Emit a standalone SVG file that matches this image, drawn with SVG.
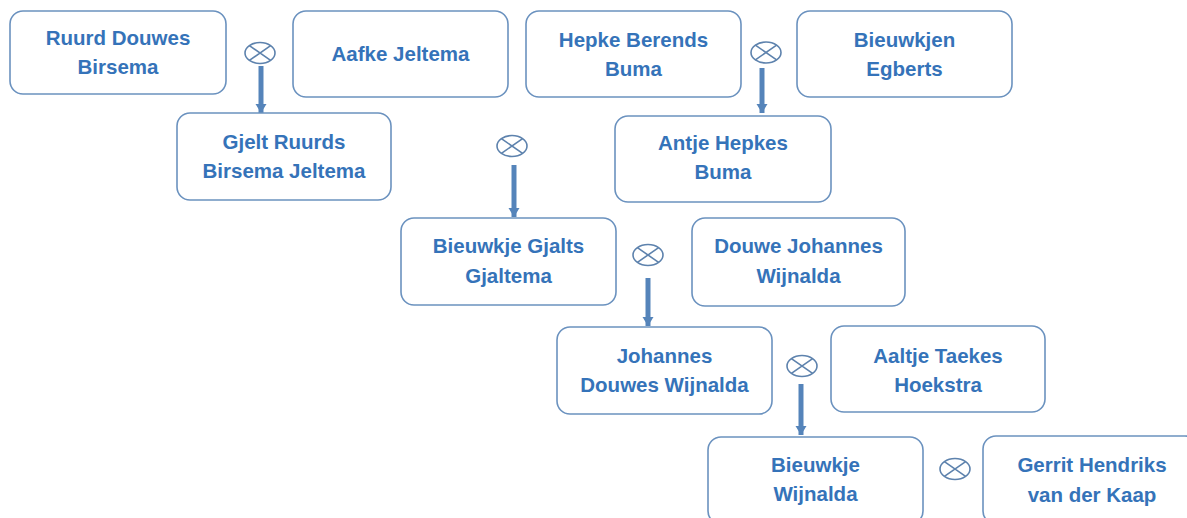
<svg xmlns="http://www.w3.org/2000/svg" width="1187" height="518" viewBox="0 0 1187 518">
  <style>
    .box { fill: #ffffff; stroke: #6b92bf; stroke-width: 1.6; }
    .lbl { font-family: "Liberation Sans", Arial, sans-serif; font-weight: bold; font-size: 20.5px; fill: #3573b9; text-anchor: middle; }
    .sym { fill: none; stroke: #5d82ad; stroke-width: 1.6; }
    .con { stroke: #5584ba; stroke-width: 5; fill: none; }
  </style>
  <defs>
    <marker id="arr" markerUnits="userSpaceOnUse" markerWidth="11" markerHeight="12" refX="9" refY="6" orient="auto">
      <path d="M0,0.5 L9,6 L0,11.5 Z" fill="#5584ba"/>
    </marker>
    <g id="ox">
      <ellipse cx="0" cy="0" rx="15" ry="10.5" class="sym"/>
      <path d="M-10.6,-7.4 L10.6,7.4 M-10.6,7.4 L10.6,-7.4" class="sym"/>
    </g>
  </defs>
  <rect width="1187" height="518" fill="#ffffff"/>

  <g id="connectors">
    <line class="con" x1="261" y1="66" x2="261" y2="113" marker-end="url(#arr)"/>
    <line class="con" x1="762" y1="68" x2="762" y2="113" marker-end="url(#arr)"/>
    <line class="con" x1="514" y1="165" x2="514" y2="217" marker-end="url(#arr)"/>
    <line class="con" x1="648" y1="278" x2="648" y2="326" marker-end="url(#arr)"/>
    <line class="con" x1="801" y1="384" x2="801" y2="435" marker-end="url(#arr)"/>
  </g>

  <g id="unions">
    <use href="#ox" x="260" y="53"/>
    <use href="#ox" x="766" y="52.5"/>
    <use href="#ox" x="512" y="146"/>
    <use href="#ox" x="648" y="255"/>
    <use href="#ox" x="802" y="366"/>
    <use href="#ox" x="955" y="469"/>
  </g>

  <g id="n1">
    <rect class="box" x="10" y="11" width="216" height="83" rx="13"/>
    <text class="lbl" x="118" y="45">Ruurd Douwes</text>
    <text class="lbl" x="118" y="74">Birsema</text>
  </g>
  <g id="n2">
    <rect class="box" x="293" y="11" width="215" height="86" rx="13"/>
    <text class="lbl" x="400.5" y="61">Aafke Jeltema</text>
  </g>
  <g id="n3">
    <rect class="box" x="177" y="113" width="214" height="87" rx="13"/>
    <text class="lbl" x="284" y="149">Gjelt Ruurds</text>
    <text class="lbl" x="284" y="178">Birsema Jeltema</text>
  </g>
  <g id="n4">
    <rect class="box" x="526" y="11" width="215" height="86" rx="13"/>
    <text class="lbl" x="633.5" y="47">Hepke Berends</text>
    <text class="lbl" x="633.5" y="76">Buma</text>
  </g>
  <g id="n5">
    <rect class="box" x="797" y="11" width="215" height="86" rx="13"/>
    <text class="lbl" x="904.5" y="47">Bieuwkjen</text>
    <text class="lbl" x="904.5" y="76">Egberts</text>
  </g>
  <g id="n6">
    <rect class="box" x="615" y="116" width="216" height="86" rx="13"/>
    <text class="lbl" x="723" y="150">Antje Hepkes</text>
    <text class="lbl" x="723" y="179">Buma</text>
  </g>
  <g id="n7">
    <rect class="box" x="401" y="218" width="215" height="87" rx="13"/>
    <text class="lbl" x="508.5" y="253">Bieuwkje Gjalts</text>
    <text class="lbl" x="508.5" y="283">Gjaltema</text>
  </g>
  <g id="n8">
    <rect class="box" x="692" y="218" width="213" height="88" rx="13"/>
    <text class="lbl" x="798.5" y="253">Douwe Johannes</text>
    <text class="lbl" x="798.5" y="283">Wijnalda</text>
  </g>
  <g id="n9">
    <rect class="box" x="557" y="327" width="215" height="87" rx="13"/>
    <text class="lbl" x="664.5" y="363">Johannes</text>
    <text class="lbl" x="664.5" y="392">Douwes Wijnalda</text>
  </g>
  <g id="n10">
    <rect class="box" x="831" y="326" width="214" height="86" rx="13"/>
    <text class="lbl" x="938" y="363">Aaltje Taekes</text>
    <text class="lbl" x="938" y="392">Hoekstra</text>
  </g>
  <g id="n11">
    <rect class="box" x="708" y="437" width="215" height="87" rx="13"/>
    <text class="lbl" x="815.5" y="472">Bieuwkje</text>
    <text class="lbl" x="815.5" y="501">Wijnalda</text>
  </g>
  <g id="n12">
    <rect class="box" x="983" y="436" width="215" height="88" rx="13"/>
    <text class="lbl" x="1092" y="472">Gerrit Hendriks</text>
    <text class="lbl" x="1092" y="502">van der Kaap</text>
  </g>
</svg>
